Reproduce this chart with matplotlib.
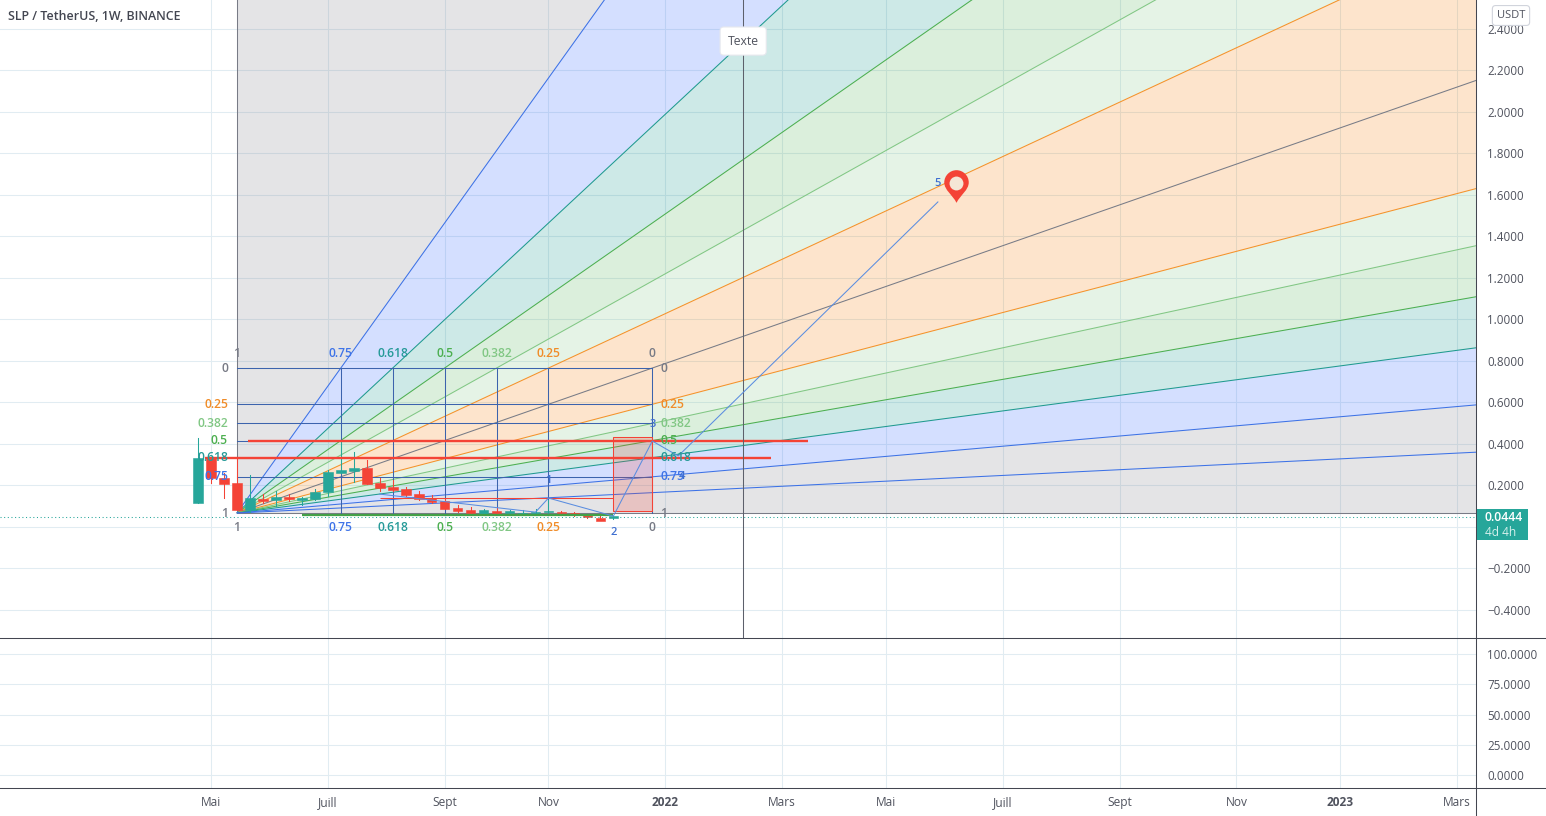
import datetime as dt
import pandas as pd
import matplotlib
matplotlib.use("Agg")
import matplotlib.pyplot as plt
import matplotlib.dates as mdates
from matplotlib.lines import Line2D
from matplotlib.patches import Rectangle, Polygon
from matplotlib.path import Path

plt.rcParams['font.family'] = ['Open Sans', 'DejaVu Sans']

# ---------- data ----------
first_candle = "2021-04-26"
opens  = [.114,.331,.234,.210,.080,.133,.128,.142,.130,.133,.167,.258,.268,.283,.210,.191,.181,.157,.138,.123,.090,.080,.062,.072,.068,.060,.066,.070,.070,.064,.058,.040,.044]
highs  = [.427,.331,.258,.336,.249,.157,.172,.157,.142,.180,.275,.413,.360,.320,.234,.225,.191,.172,.152,.133,.104,.095,.085,.090,.080,.078,.085,.130,.074,.072,.062,.050,.052]
lows   = [.114,.210,.138,.080,.070,.114,.100,.123,.105,.128,.150,.258,.215,.205,.172,.170,.150,.128,.114,.085,.070,.056,.058,.056,.056,.056,.058,.060,.054,.050,.040,.030,.036]
closes = [.331,.234,.205,.080,.138,.125,.143,.133,.135,.167,.263,.273,.283,.205,.186,.177,.152,.133,.119,.085,.075,.065,.080,.068,.070,.066,.070,.074,.064,.058,.048,.028,.044]

box_dates = ["2021-05-17", "2021-12-27"]
box_prices = [0.0656, 0.765]
levels = [0.75, 0.618, 0.5, 0.382, 0.25]
time_levels = [0.75, 0.625, 0.5, 0.375, 0.25]
level_names = ["0.75", "0.618", "0.5", "0.382", "0.25"]
level_colors = ["#2962ff", "#089188", "#4caf50", "#81c784", "#f57c00"]
line_colors = ["#3d72e6", "#1f9a8f", "#4caf50", "#81c784", "#f5922a"]
text_colors = ["#3f74e8", "#269a98", "#4caf50", "#81c784", "#f08c28"]
grey = "#787b86"
extra_ray_price = 0.164

red_levels = [0.413, 0.331, 0.138]
red_starts = ["2021-05-23", "2021-04-30", "2021-08-02"]
red_ends = ["2022-03-21", "2022-03-01", "2021-12-06"]
rect_dates = ["2021-12-06", "2021-12-27"]
rect_prices = [0.075, 0.432]
base_dates = ["2021-06-21", "2021-12-06"]
base_price = 0.058

wave_dates = ["2021-08-02", "2021-10-25", "2021-11-01", "2021-12-06", "2021-12-27", "2022-01-10", "2022-05-30"]
wave_prices = [0.157, 0.070, 0.138, 0.051, 0.413, 0.341, 1.566]
wave_names = ["1", "2", "3", "4", "5"]
wave_label_dates = ["2021-11-01", "2021-12-06", "2021-12-27", "2022-01-12", "2022-05-30"]
wave_label_prices = [0.225, -0.026, 0.495, 0.244, 1.653]

vline_date = "2022-02-14"
text_price = 2.342
pin_date = "2022-06-09"
pin_price = 1.643
last_price = 0.0444

price_ticks = [2.4, 2.2, 2.0, 1.8, 1.6, 1.4, 1.2, 1.0, 0.8, 0.6, 0.4, 0.2, 0.0, -0.2, -0.4]
price_tick_labels = ["2.4000", "2.2000", "2.0000", "1.8000", "1.6000", "1.4000", "1.2000", "1.0000",
                     "0.8000", "0.6000", "0.4000", "0.2000", "", "\u22120.2000", "\u22120.4000"]
osc_ticks = [100, 75, 50, 25, 0]
osc_tick_labels = ["100.0000", "75.0000", "50.0000", "25.0000", "0.0000"]
time_ticks = ["2021-05-03", "2021-07-05", "2021-09-06", "2021-11-01", "2022-01-03", "2022-03-07",
              "2022-05-02", "2022-07-04", "2022-09-05", "2022-11-07", "2023-01-02", "2023-03-06"]
time_labels = ["Mai", "Juill", "Sept", "Nov", "2022", "Mars", "Mai", "Juill", "Sept", "Nov", "2023", "Mars"]

# ---------- helpers ----------
W, H = 1546, 816
GRID = "#e1ecf2"
TXT = "#50535e"
AXIS = "#434651"
UP, DOWN = "#26a69a", "#f44336"
LW = 0.75
def d(s):
    return mdates.date2num(dt.date.fromisoformat(s))
def fx(p): return p / W
def fy(p): return 1 - p / H

fig = plt.figure(figsize=(W / 100, H / 100), dpi=100, facecolor="white")
ax = fig.add_axes([0, fy(638), fx(1476), 638 / H])
osc = fig.add_axes([0, fy(788), fx(1476), 150 / H], sharex=ax)

xbase = d("2021-05-03")
ax.set_xlim(xbase - 211 / 12.98 * 7, xbase + 1265 / 12.98 * 7)
ax.set_ylim(-0.537, 2.540)
osc.set_ylim(-10.3, 113.2)

for a in (ax, osc):
    for s in ("top", "left", "bottom", "right"):
        a.spines[s].set_visible(False)
    a.yaxis.tick_right()
    a.set_axisbelow(True)
    a.grid(True, color=GRID, lw=LW)
    a.tick_params(length=0, labelcolor=TXT, labelsize=8.35, pad=8)
tt = [d(s) for s in time_ticks]
osc.set_xticks(tt)
osc.set_xticklabels(time_labels)
osc.tick_params(axis="x", pad=6, labelsize=8.6)
for lab_, s in zip(osc.get_xticklabels(), time_labels):
    if s.startswith("20"):
        lab_.set_fontweight("bold")
ax.tick_params(axis="x", labelbottom=False)
ax.set_yticks(price_ticks)
ax.set_yticklabels(price_tick_labels)
osc.set_yticks(osc_ticks)
osc.set_yticklabels(osc_tick_labels)

# ---------- gann / fib fan ----------
x0, x1 = d(box_dates[0]), d(box_dates[1])
y0, y1 = box_prices
bw, bh = x1 - x0, y1 - y0
ray_pts = [(x0, y1)]
ray_cols = [grey]
for lv, c in zip(time_levels, line_colors):
    ray_pts.append((x0 + (1 - lv) * bw, y1)); ray_cols.append(c)
ray_pts.append((x1, y1)); ray_cols.append(grey)
for lv, c in zip(reversed(levels), reversed(line_colors)):
    ray_pts.append((x1, y0 + (1 - lv) * bh)); ray_cols.append(c)
ray_pts.append((x1, y0)); ray_cols.append(grey)

K = 30
far = [(x0 + (px - x0) * K, y0 + (py - y0) * K) for px, py in ray_pts]
n = len(far)
band_cols = [grey] + level_colors + list(reversed(level_colors)) + [grey]
for i in range(n - 1):
    ax.add_patch(Polygon([(x0, y0), far[i], far[i + 1]], closed=True, fc=band_cols[i],
                         ec="none", alpha=0.2, zorder=1.5))
for (fxp, fyp), c in zip(far, ray_cols):
    ax.plot([x0, fxp], [y0, fyp], color=c, lw=LW, zorder=2, solid_capstyle="butt")
ax.plot([x0, x0 + bw * K], [y0, y0 + (extra_ray_price - y0) * K], color=line_colors[0], lw=LW, zorder=2)

# inner box grid
BOXC = "#3c63ad"
for tl, lv in zip(time_levels + [0], levels + [0]):
    xv = x0 + (1 - tl) * bw
    ax.plot([xv, xv], [y0, y1], color=BOXC, lw=LW, zorder=2.1)
    yv = y0 + (1 - lv) * bh
    ax.plot([x0, x1], [yv, yv], color=BOXC, lw=LW, zorder=2.1)

# level labels
def lab(x, y, s, c, ox, oy, ha="center"):
    ax.annotate(s, (x, y), xytext=(ox, oy), textcoords="offset pixels", ha=ha, va="center",
                color=c, fontsize=8.7, fontweight="semibold", zorder=6)
for s, tl, lv, c in zip(level_names + ["0"], time_levels + [0], levels + [0], text_colors + [grey]):
    xv = x0 + (1 - tl) * bw
    yv = y0 + (1 - lv) * bh
    lab(xv, y1, s, c, 0, 15)
    lab(xv, y0, s, c, 0, -14)
    lab(x0, yv, s, c, -9, 0, "right")
    lab(x1, yv, s, c, 8, 0, "left")
lab(x0, y1, "1", grey, 0, 15)
lab(x0, y0, "1", grey, 0, -14)
lab(x0, y0, "1", grey, -9, 0, "right")
lab(x1, y0, "1", grey, 8, 0, "left")

# ---------- candles ----------
cdates = pd.date_range(first_candle, periods=len(opens), freq="7D")
for t, o, h, l, cl in zip(cdates, opens, highs, lows, closes):
    xc = mdates.date2num(t)
    col = UP if cl >= o else DOWN
    ax.plot([xc, xc], [l, h], color=col, lw=LW, zorder=3)
    ax.add_patch(Rectangle((xc - 2.6, min(o, cl)), 5.2, max(abs(cl - o), 0.006), fc=col, ec=col, lw=0.4, zorder=3.1))

# ---------- drawings ----------
ax.plot([d(base_dates[0]), d(base_dates[1])], [base_price] * 2, color="#43a047", lw=1.6, zorder=3.2,
        solid_capstyle="butt")
ax.add_patch(Rectangle((d(rect_dates[0]), rect_prices[0]), d(rect_dates[1]) - d(rect_dates[0]),
                       rect_prices[1] - rect_prices[0], fc="#f44336", alpha=0.2, ec="none", zorder=3.3))
ax.add_patch(Rectangle((d(rect_dates[0]), rect_prices[0]), d(rect_dates[1]) - d(rect_dates[0]),
                       rect_prices[1] - rect_prices[0], fc="none", ec="#f44336", lw=LW, zorder=3.4))
for p, s, e, w in zip(red_levels, red_starts, red_ends, [1.7, 1.7, LW]):
    ax.plot([d(s), d(e)], [p, p], color="#f44336", lw=w, zorder=4, solid_capstyle="butt")
ax.plot([d(s) for s in wave_dates], wave_prices, color="#5a8de0", lw=LW, zorder=4.2)
for s, t, p in zip(wave_names, wave_label_dates, wave_label_prices):
    ax.text(d(t), p, s, color="#3f6fd0", fontsize=8, fontweight="semibold", ha="center", va="center", zorder=6)

vx = d(vline_date)
ax.plot([vx, vx], [-0.537, 2.54], color="#5d606b", lw=LW, zorder=4.1)
ax.text(vx, text_price, "Texte", color=TXT, fontsize=8.8, ha="center", va="center", zorder=7,
        bbox=dict(boxstyle="round,pad=0.62,rounding_size=0.3", fc="white", ec="#e6e8ee", lw=0.8))

ax.axhline(last_price, color=UP, lw=LW, ls=(0, (1, 2.5)), zorder=4)

# pin
verts = [(0, -1), (-.25, -.5), (-.75, -.22), (-.75, .25), (-.75, .66), (-.41, 1), (0, 1),
         (.41, 1), (.75, .66), (.75, .25), (.75, -.22), (.25, -.5), (0, -1), (0, -1)]
codes = [Path.MOVETO] + [Path.CURVE4] * 12 + [Path.CLOSEPOLY]
ax.plot([d(pin_date)], [pin_price], marker=Path(verts, codes), ms=23.5, color="#f44336", mec="none", zorder=8)
ax.plot([d(pin_date)], [pin_price + 0.014], marker="o", ms=10, color="#f5e6d6", mec="none", zorder=8.1)

# ---------- chrome ----------
for py in (638, 788):
    fig.add_artist(Line2D([0, 1], [fy(py)] * 2, color=AXIS, lw=LW, zorder=20))
fig.add_artist(Line2D([fx(1476)] * 2, [0, 1], color=AXIS, lw=LW, zorder=20))
fig.text(fx(8), fy(16), "SLP / TetherUS, 1W, BINANCE", color="#434651", fontsize=8.9,
         fontweight="semibold", ha="left", va="center")
fig.add_artist(Rectangle((fx(1476.5), fy(540)), fx(51), 31 / H, transform=fig.transFigure,
                         fc=UP, ec="none", zorder=21))
fig.text(fx(1504), fy(517.5), "0.0444", color="white", fontsize=8.8, fontweight="semibold",
         ha="center", va="center", zorder=22)
fig.text(fx(1501), fy(532), "4d 4h", color="#d5f0ec", fontsize=8.6, ha="center", va="center", zorder=22)
fig.text(fx(1511), fy(15.5), "USDT", color=TXT, fontsize=8, ha="center", va="center", zorder=22,
         bbox=dict(boxstyle="round,pad=0.4,rounding_size=0.3", fc="white", ec="#d1d4dc", lw=0.8))

fig.savefig("out.png", dpi=100, facecolor="white")
